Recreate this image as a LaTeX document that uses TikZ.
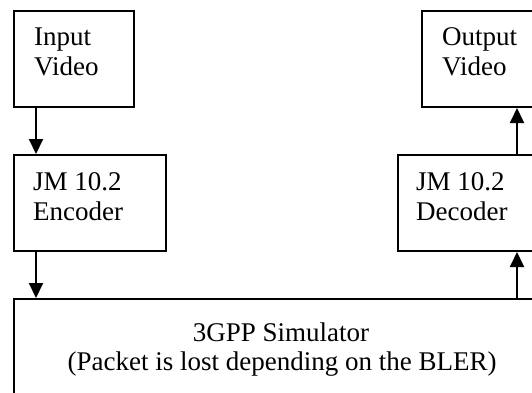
\documentclass[tikz,border=0pt]{standalone}
\usepackage{fontspec}
\setmainfont{Liberation Serif}
\usetikzlibrary{arrows.meta}
\begin{document}
\begin{tikzpicture}[x=1pt,y=-1pt,
  box/.style={draw, line width=2pt, inner sep=0pt, anchor=north west},
  flow/.style={-{Triangle[length=15pt,width=14pt]}, line width=2pt},
  txt/.style={font=\fontsize{27}{30}\selectfont, inner sep=0pt, anchor=base west},
  ctxt/.style={font=\fontsize{27}{30}\selectfont, inner sep=0pt, anchor=base}]
\useasboundingbox (0,0) rectangle (532,392);
\clip (0,0) rectangle (532,392);

% processing blocks
\node[box, minimum width=120pt, minimum height=96pt] (in)  at (13,10) {};
\node[box, minimum width=152pt, minimum height=96pt] (enc) at (13,154) {};
\node[box, minimum width=124pt, minimum height=96pt] (out) at (421,10) {};
\node[box, minimum width=152pt, minimum height=96pt] (dec) at (397,154) {};
\node[box, minimum width=534pt, minimum height=130pt] (sim) at (13,298) {};

% block labels
\node[txt] (inA)  at (34,45)  {Input};
\node[txt] (inB)  at (34,75)  {Video};
\node[txt] (encA) at (33,190) {JM 10.2};
\node[txt] (encB) at (33,220) {Encoder};
\node[txt] (outA) at (442,45) {Output};
\node[txt] (outB) at (442,75) {Video};
\node[txt] (decA) at (416,190) {JM 10.2};
\node[txt] (decB) at (416,220) {Decoder};
\node[ctxt] (simA) at (281,341) {3GPP Simulator};
\node[ctxt] (simB) at (282,370) {(Packet is lost depending on the BLER)};

% data flow
\draw[flow] ([xshift=23pt]in.south west)  -- ([xshift=23pt]enc.north west);
\draw[flow] ([xshift=23pt]enc.south west) -- ([xshift=23pt]sim.north west);
\draw[flow] ([xshift=504pt]sim.north west) -- ([xshift=120pt]dec.south west);
\draw[flow] ([xshift=120pt]dec.north west) -- ([xshift=96pt]out.south west);
\end{tikzpicture}
\end{document}
